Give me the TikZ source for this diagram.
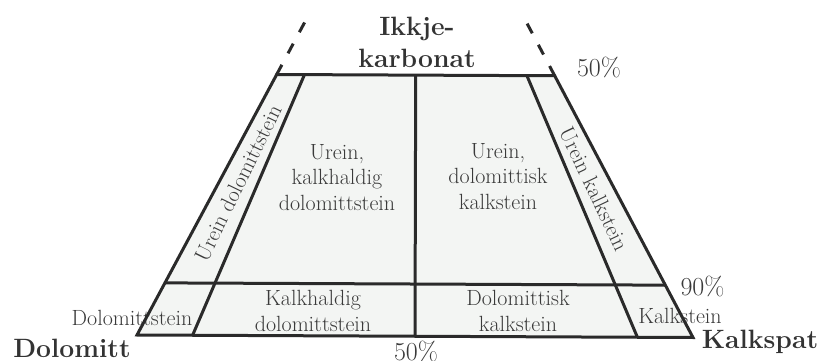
\documentclass[tikz,border=0pt]{standalone}
\usetikzlibrary{calc}
\definecolor{linec}{HTML}{2A2A2A}
\definecolor{textc}{HTML}{3A3A3A}
\definecolor{boldc}{HTML}{333333}
\definecolor{fillc}{HTML}{F3F5F3}
\begin{document}
\begin{tikzpicture}[x=1pt,y=-1pt,
  edge/.style={draw=linec, line width=3pt},
  lbl/.style={text=textc, font=\fontsize{22}{25.5}\selectfont, inner sep=0pt, align=center},
  corner/.style={text=boldc, font=\fontsize{26.5}{32.5}\selectfont\bfseries, inner sep=0pt, align=center},
  pct/.style={text=textc, font=\fontsize{26}{30}\selectfont, inner sep=0pt}]
\useasboundingbox (0,0) rectangle (823,361);
% triangle vertices
\coordinate (D) at (137,335);
\coordinate (K) at (693,337.5);
\coordinate (A) at (416.4,-186);
% derived points
\coordinate (L50) at ($(D)!0.5!(A)$);
\coordinate (R50) at ($(K)!0.5!(A)$);
\coordinate (L90) at ($(D)!0.1!(A)$);
\coordinate (R90) at ($(K)!0.1!(A)$);
\coordinate (B10) at ($(D)!0.1!(K)$);
\coordinate (B50) at ($(D)!0.5!(K)$);
\coordinate (B90) at ($(D)!0.9!(K)$);
\coordinate (T10) at ($(B10)!0.5!(A)$);
\coordinate (T50) at ($(B50)!0.5!(A)$);
\coordinate (T90) at ($(B90)!0.5!(A)$);
\coordinate (LE) at ($(L50)!0.215!(A)$);
\coordinate (RE) at ($(R50)!0.215!(A)$);
% fill
\fill[fillc] (D) -- (K) -- (R50) -- (L50) -- cycle;
% labels (base anchor = baseline of the last line)
\node[corner, anchor=base] (ikk) at (417,68) {Ikkje-\\karbonat};
\node[corner, anchor=base] (dol) at (72,357) {Dolomitt};
\node[corner, anchor=base] (kal) at (760,348) {Kalkspat};
\node[pct, anchor=base] (p50t) at (599,77) {50\%};
\node[pct, anchor=base] (p90) at (702.5,295) {90\%};
\node[pct, anchor=base] (p50b) at (416,360) {50\%};
\node[lbl, anchor=base] (ukd) at (337,210) {Urein,\\kalkhaldig\\dolomittstein};
\node[lbl, anchor=base] (udk) at (498,209) {Urein,\\dolomittisk\\kalkstein};
\node[lbl, anchor=base] (kd) at (313,331) {Kalkhaldig\\dolomittstein};
\node[lbl, anchor=base] (dk) at (518,331) {Dolomittisk\\kalkstein};
\node[lbl, anchor=base] (ds) at (132,325) {Dolomittstein};
\node[lbl, anchor=base] (ks) at (680,323) {Kalkstein};
\node[lbl, rotate=64] (ud) at (238,183) {Urein dolomittstein};
\node[lbl, rotate=-64.5] (uk) at (594,189) {Urein kalkstein};
% inner lines
\draw[edge] (B10) -- (T10);
\draw[edge] (B50) -- (T50);
\draw[edge] (B90) -- (T90);
\draw[edge] (L90) -- (R90);
% outline
\draw[edge, line join=miter] (D) -- (K) -- (R50) -- (L50) -- cycle;
% dashed continuation
\draw[edge, dash pattern=on 11pt off 13pt] (L50) -- (LE);
\draw[edge, dash pattern=on 11pt off 13pt] (R50) -- (RE);
\end{tikzpicture}
\end{document}
